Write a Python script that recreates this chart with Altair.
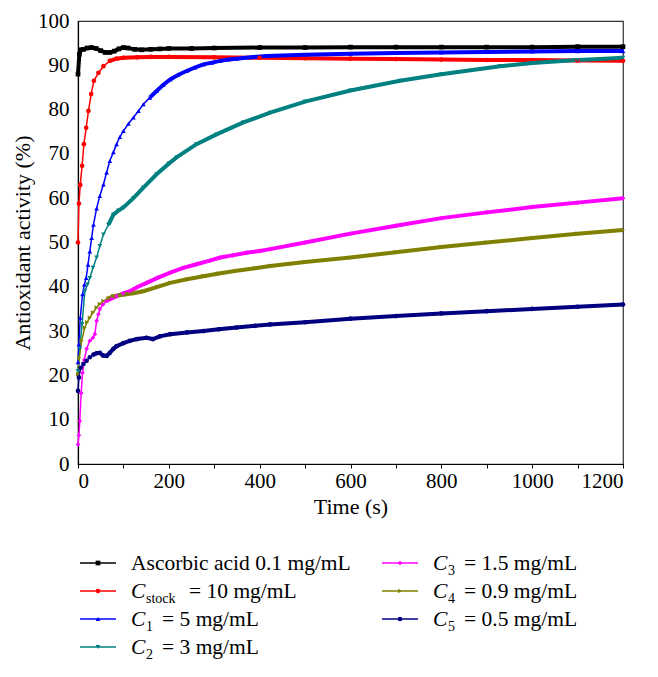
import altair as alt
import pandas as pd

# ---------------- data ----------------
series_names = [
    "Ascorbic acid 0.1 mg/mL",
    "Cstock = 10 mg/mL",
    "C1 = 5 mg/mL",
    "C2 = 3 mg/mL",
    "C3 = 1.5 mg/mL",
    "C4 = 0.9 mg/mL",
    "C5 = 0.5 mg/mL",
]

t_asc = [0, 3, 6, 12, 20, 30, 40, 50, 60, 70, 80, 90, 100, 110, 125, 140, 160, 180, 200, 250,
         300, 400, 500, 600, 700, 800, 900, 1000, 1100, 1200]
v_asc = [88.0, 92.5, 93.5, 93.6, 93.9, 94.0, 93.8, 93.3, 92.9, 92.9, 93.2, 93.7, 94.0, 93.9, 93.6,
         93.5, 93.6, 93.7, 93.8, 93.8, 93.9, 94.0, 94.0, 94.1, 94.1, 94.1, 94.1, 94.1, 94.2, 94.2]

t_stock = [0, 2, 5, 9, 13, 18, 23, 29, 35, 45, 56, 70, 85, 100, 130, 160, 200, 300, 400, 500,
           600, 700, 800, 900, 1000, 1100, 1200]
v_stock = [50.0, 58.8, 63.0, 67.3, 72.2, 75.9, 79.7, 83.5, 86.5, 88.3, 89.8, 91.0, 91.5, 91.7,
           91.8, 91.9, 91.9, 91.8, 91.7, 91.6, 91.5, 91.4, 91.3, 91.2, 91.2, 91.1, 91.0]

t_c1 = [0, 2, 5, 10, 14, 18, 22, 26, 30, 34, 41, 48, 56, 63, 70, 78, 85, 92, 100, 111,
        122, 133, 144, 158, 173, 188, 203, 220, 239, 257, 276, 295, 313, 331, 349, 380, 415, 500,
        600, 700, 800, 900, 1000, 1100, 1200]
v_c1 = [23.0, 27.0, 33.0, 38.3, 40.5, 42.0, 45.0, 48.0, 51.0, 54.0, 57.7, 60.5, 63.1, 65.8, 68.4,
        70.4, 72.2, 73.8, 75.2, 76.8, 78.2, 79.7, 81.2, 82.7, 84.2, 85.6, 86.8, 87.8, 88.7, 89.5,
        90.2, 90.6, 91.0, 91.3, 91.5, 91.8, 92.1, 92.4, 92.6, 92.8, 92.9, 93.0, 93.1, 93.2, 93.2]

t_c2 = [0, 4, 9, 15, 21, 26, 33, 41, 48, 56, 67, 78, 89, 100, 122, 144, 173, 200, 217, 261,
        305, 364, 423, 500, 600, 709, 800, 929, 1000, 1100, 1149, 1200]
v_c2 = [21.0, 26.0, 31.6, 39.0, 40.5, 42.0, 44.3, 46.6, 49.2, 51.8, 54.0, 56.3, 57.2, 57.9, 60.0,
        62.4, 65.4, 67.8, 69.2, 72.2, 74.4, 77.1, 79.3, 81.8, 84.3, 86.5, 88.0, 89.8, 90.5, 91.2,
        91.4, 91.7]

t_c3 = [0, 2, 4, 7, 10, 14, 19, 26, 33, 37, 41, 45, 48, 55, 63, 74, 85, 100, 114, 130,
        151, 175, 203, 230, 261, 290, 313, 340, 371, 400, 423, 500, 600, 700, 800, 900, 1000,
        1100, 1200]
v_c3 = [4.4, 6.5, 9.7, 16.0, 20.6, 23.5, 26.0, 27.8, 28.5, 29.3, 32.3, 33.8, 35.0, 36.0, 36.8,
        37.4, 37.9, 38.5, 39.0, 39.9, 40.9, 42.0, 43.2, 44.2, 45.1, 45.9, 46.6, 47.1, 47.7, 48.1,
        48.5, 50.0, 52.0, 53.8, 55.5, 56.8, 58.0, 59.0, 60.0]

t_c4 = [0, 3, 8, 15, 20, 26, 33, 41, 48, 56, 67, 78, 92, 107, 125, 144, 175, 203, 240, 276,
        310, 349, 390, 423, 500, 600, 700, 800, 900, 1000, 1100, 1200]
v_c4 = [20.3, 24.0, 27.8, 30.8, 32.0, 33.0, 34.2, 35.3, 36.1, 36.8, 37.4, 37.9, 38.1, 38.3, 38.6,
        39.0, 40.0, 40.9, 41.7, 42.4, 43.0, 43.6, 44.2, 44.7, 45.6, 46.6, 47.8, 49.0, 50.0, 51.0,
        52.0, 52.8]

t_c5 = [0, 2, 6, 12, 19, 26, 34, 41, 48, 55, 63, 70, 78, 85, 100, 114, 130, 151, 165, 180,
        203, 240, 276, 310, 349, 390, 423, 500, 600, 700, 800, 900, 1000, 1100, 1200]
v_c5 = [16.5, 19.5, 21.7, 22.6, 23.3, 24.1, 24.7, 25.0, 25.1, 24.5, 24.4, 25.1, 26.0, 26.6, 27.3,
        27.8, 28.2, 28.5, 28.2, 28.8, 29.3, 29.7, 30.0, 30.4, 30.8, 31.2, 31.5, 32.0, 32.8, 33.4,
        34.0, 34.5, 35.0, 35.5, 36.0]

# legend text pieces (main letter, subscript, remainder)
leg_main = ["Ascorbic acid 0.1 mg/mL", "C", "C", "C", "C", "C", "C"]
leg_sub = ["", "stock", "1", "2", "3", "4", "5"]
leg_rest = ["", "= 10 mg/mL", "= 5 mg/mL", "= 3 mg/mL", "= 1.5 mg/mL", "= 0.9 mg/mL", "= 0.5 mg/mL"]
leg_col = [0, 0, 0, 0, 1, 1, 1]
leg_row = [0, 1, 2, 3, 0, 1, 2]

# ---------------- styles ----------------
colors = ["#000000", "#ff0000", "#0000ff", "#008080", "#ff00ff", "#808000", "#000080"]
shapes = ["square", "circle", "triangle-up", "triangle-down", "diamond", "triangle-right", "circle"]
dense_from = [0, 60, 150, 60, 60, 60, 30]  # where markers merge into a thick band
FONT = "Liberation Serif"
LEG_FS = 21.5

all_t = [t_asc, t_stock, t_c1, t_c2, t_c3, t_c4, t_c5]
all_v = [v_asc, v_stock, v_c1, v_c2, v_c3, v_c4, v_c5]

rows = []
for i, (name, ts, vs) in enumerate(zip(series_names, all_t, all_v)):
    for t, v in zip(ts, vs):
        rows.append({"series": name, "t": t, "v": v, "dense": t >= dense_from[i]})
df = pd.DataFrame(rows)

color_scale = alt.Scale(domain=series_names, range=colors)
shape_scale = alt.Scale(domain=series_names, range=shapes)

x_enc = alt.X(
    "t:Q",
    scale=alt.Scale(domain=[0, 1200], nice=False),
    axis=alt.Axis(
        title="Time (s)",
        values=list(range(0, 1201, 100)),
        labelExpr="datum.value % 200 == 0 ? datum.label : ''",
        format="d",
        grid=False,
        tickSize=4,
        labelPadding=2,
        titlePadding=5,
    ),
)
y_enc = alt.Y(
    "v:Q",
    scale=alt.Scale(domain=[0, 100], nice=False),
    axis=alt.Axis(
        title="Antioxidant activity (%)",
        values=list(range(0, 101, 10)),
        grid=False,
        tickSize=0,
        labelPadding=9,
        titlePadding=3,
    ),
)

base = alt.Chart(df).encode(
    x=x_enc,
    y=y_enc,
    color=alt.Color("series:N", scale=color_scale, legend=None),
    detail="series:N",
    order="t:Q",
)

thin = base.mark_line(strokeWidth=1.5)
thick = base.transform_filter("datum.dense").mark_line(strokeWidth=4)
pts = base.mark_point(filled=True, size=22, opacity=1).encode(
    shape=alt.Shape("series:N", scale=shape_scale, legend=None)
)

main = alt.layer(thin, thick, pts).properties(
    width=545, height=443,
    view=alt.ViewBackground(stroke="#333333", strokeWidth=1.2),
)

# ---------------- legend panel ----------------
leg_df = pd.DataFrame({
    "series": series_names,
    "main": leg_main,
    "sub": leg_sub,
    "rest": leg_rest,
    "col": leg_col,
    "row": leg_row,
})

lx = alt.X("col:Q", scale=alt.Scale(domain=[0, 1], range=[20, 322]), axis=None)
ly = alt.Y("row:Q", scale=alt.Scale(domain=[0, 3], range=[0, 84]), axis=None)
lbase = alt.Chart(leg_df).encode(x=lx, y=ly)

sym_line = lbase.mark_point(shape="M-1,0L1,0", size=1296, strokeWidth=1.5, filled=False, opacity=1).encode(
    color=alt.Color("series:N", scale=color_scale, legend=None)
)
sym_pt = lbase.mark_point(filled=True, size=22, opacity=1).encode(
    color=alt.Color("series:N", scale=color_scale, legend=None),
    shape=alt.Shape("series:N", scale=shape_scale, legend=None),
)
txt_plain = lbase.transform_filter("datum.sub == ''").mark_text(
    align="left", baseline="alphabetic", dx=33, dy=7, font=FONT, fontSize=LEG_FS, color="black"
).encode(text="main:N")
txt_c = lbase.transform_filter("datum.sub != ''").mark_text(
    align="left", baseline="alphabetic", dx=33, dy=7, font=FONT, fontSize=LEG_FS, fontStyle="italic", color="black"
).encode(text="main:N")
txt_sub = lbase.transform_filter("datum.sub != ''").mark_text(
    align="left", baseline="alphabetic", dx=48, dy=12, font=FONT, fontSize=14, color="black"
).encode(text="sub:N")
txt_rest_stock = lbase.transform_filter("datum.sub == 'stock'").mark_text(
    align="left", baseline="alphabetic", dx=91, dy=7, font=FONT, fontSize=LEG_FS, color="black"
).encode(text="rest:N")
txt_rest_num = lbase.transform_filter("datum.sub != '' && datum.sub != 'stock'").mark_text(
    align="left", baseline="alphabetic", dx=64, dy=7, font=FONT, fontSize=LEG_FS, color="black"
).encode(text="rest:N")

legend = alt.layer(sym_line, sym_pt, txt_plain, txt_c, txt_sub, txt_rest_stock, txt_rest_num).properties(
    width=545, height=90,
    view=alt.ViewBackground(stroke=None),
)

chart = alt.vconcat(main, legend, spacing=35).properties(
    padding={"left": 2, "top": 1, "right": 5, "bottom": 5}
).configure_view(
    stroke=None
).configure_axis(
    labelFont=FONT,
    titleFont=FONT,
    labelFontSize=21,
    titleFontSize=22,
    titleFontWeight="normal",
    labelColor="black",
    titleColor="black",
    domainColor="black",
    tickColor="black",
    domainWidth=1.2,
)

chart.save("out.html", embed_options={"renderer": "svg", "actions": False})
